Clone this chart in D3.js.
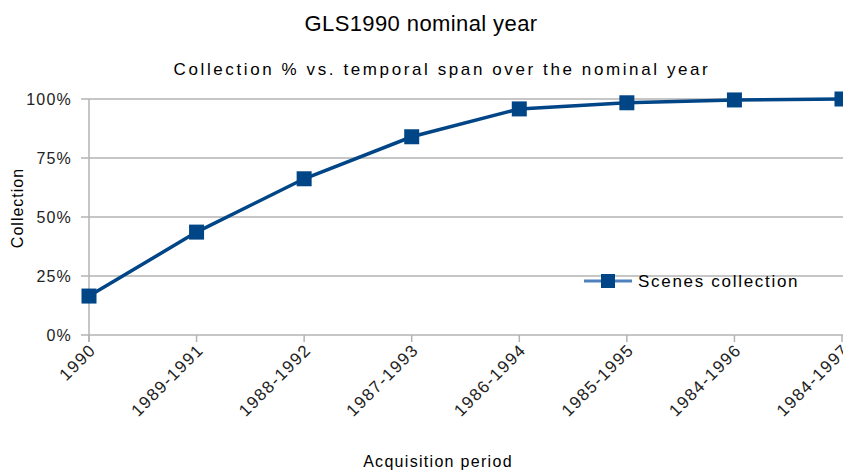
<!DOCTYPE html>
<html>
<head>
<meta charset="utf-8">
<script src="https://cdn.jsdelivr.net/npm/d3@7"></script>
<style>
  body { margin: 0; background: #fff; }
  text { font-family: "Liberation Sans", Arial, sans-serif; }
</style>
</head>
<body>
<div id="chart"></div>
<script>
// chart data
var periods = ["1990", "1989-1991", "1988-1992", "1987-1993", "1986-1994", "1985-1995", "1984-1996", "1984-1997"];
var collection = [16.5, 43.6, 66.2, 84.0, 95.8, 98.4, 99.6, 100];
var yTicks = [0, 25, 50, 75, 100];

var width = 843, height = 470;
var margin = {top: 99, right: 1, bottom: 135, left: 89};

var svg = d3.select("#chart")
  .append("svg")
    .attr("width", width)
    .attr("height", height);

var x = d3.scalePoint()
  .domain(periods)
  .range([margin.left, width - margin.right]);

var y = d3.scaleLinear()
  .domain([0, 100])
  .range([height - margin.bottom, margin.top]);

// titles
svg.append("text")
  .attr("x", 421).attr("y", 31)
  .attr("text-anchor", "middle")
  .style("font-size", "22px")
  .style("letter-spacing", "0.4px")
  .text("GLS1990 nominal year");

svg.append("text")
  .attr("x", 442).attr("y", 75)
  .attr("text-anchor", "middle")
  .style("font-size", "17px")
  .style("letter-spacing", "2.6px")
  .text("Collection % vs. temporal span over the nominal year");

// gridlines
svg.append("g")
  .selectAll("line")
  .data(yTicks)
  .enter()
  .append("line")
    .attr("x1", margin.left - 8)
    .attr("x2", width)
    .attr("y1", d => y(d))
    .attr("y2", d => y(d))
    .style("stroke", "#b3b3b3")
    .style("stroke-width", 1.5);

// y axis line
svg.append("line")
  .attr("x1", margin.left).attr("x2", margin.left)
  .attr("y1", y(100)).attr("y2", y(0) + 7)
  .style("stroke", "#b3b3b3")
  .style("stroke-width", 1.5);

// x ticks
svg.append("g")
  .selectAll("line")
  .data(periods)
  .enter()
  .append("line")
    .attr("x1", d => x(d)).attr("x2", d => x(d))
    .attr("y1", y(0)).attr("y2", y(0) + 7)
    .style("stroke", "#b3b3b3")
    .style("stroke-width", 1.5);

// y tick labels
svg.append("g")
  .selectAll("text")
  .data(yTicks)
  .enter()
  .append("text")
    .attr("x", margin.left - 17)
    .attr("y", d => y(d) + 6)
    .attr("text-anchor", "end")
    .style("font-size", "16px")
    .style("letter-spacing", "1.2px")
    .style("fill", "#222")
    .text(d => d + "%");

// x tick labels, rotated
svg.append("g")
  .selectAll("text")
  .data(periods)
  .enter()
  .append("text")
    .attr("transform", d => "translate(" + (x(d) + 8) + "," + (y(0) + 16) + ") rotate(-45)")
    .attr("text-anchor", "end")
    .style("font-size", "17px")
    .style("letter-spacing", "1.4px")
    .style("fill", "#222")
    .text(d => d);

// axis titles
svg.append("text")
  .attr("transform", "translate(23,208) rotate(-90)")
  .attr("text-anchor", "middle")
  .style("font-size", "16px")
  .style("letter-spacing", "1px")
  .text("Collection");

svg.append("text")
  .attr("x", 438).attr("y", 467)
  .attr("text-anchor", "middle")
  .style("font-size", "16px")
  .style("letter-spacing", "1.3px")
  .text("Acquisition period");

// line
var line = d3.line()
  .x((d, i) => x(periods[i]))
  .y(d => y(d));

svg.append("path")
  .datum(collection)
  .attr("d", line)
  .style("fill", "none")
  .style("stroke", "#004586")
  .style("stroke-width", 3.5);

// markers
svg.append("g")
  .selectAll("rect")
  .data(collection)
  .enter()
  .append("rect")
    .attr("x", (d, i) => x(periods[i]) - 7.5)
    .attr("y", d => y(d) - 7.5)
    .attr("width", 15)
    .attr("height", 15)
    .style("fill", "#004586");

// legend
var legend = svg.append("g").attr("transform", "translate(584,281)");
legend.append("line")
  .attr("x1", 0).attr("x2", 48)
  .attr("y1", 0).attr("y2", 0)
  .style("stroke", "#4f81bd")
  .style("stroke-width", 3);
legend.append("rect")
  .attr("x", 17).attr("y", -7)
  .attr("width", 14).attr("height", 14)
  .style("fill", "#004586");
legend.append("text")
  .attr("x", 54).attr("y", 6)
  .style("font-size", "17px")
  .style("letter-spacing", "1.7px")
  .text("Scenes collection");
</script>
</body>
</html>
